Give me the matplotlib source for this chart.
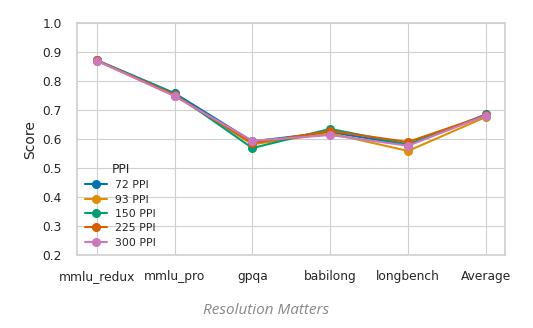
import matplotlib

matplotlib.use("Agg")
import matplotlib.pyplot as plt
import seaborn as sns

BENCHMARKS = ["mmlu_redux", "mmlu_pro", "gpqa", "babilong", "longbench", "Average"]
PPI_LABELS = ["72 PPI", "93 PPI", "150 PPI", "225 PPI", "300 PPI"]

SCORES_72 = [0.872, 0.758, 0.592, 0.624, 0.580, 0.685]
SCORES_93 = [0.870, 0.750, 0.582, 0.620, 0.559, 0.676]
SCORES_150 = [0.871, 0.756, 0.569, 0.635, 0.582, 0.682]
SCORES_225 = [0.871, 0.752, 0.586, 0.628, 0.590, 0.682]
SCORES_300 = [0.870, 0.748, 0.594, 0.614, 0.577, 0.681]

SERIES = [SCORES_72, SCORES_93, SCORES_150, SCORES_225, SCORES_300]

sns.set_theme(style="whitegrid", palette="colorblind")
plt.rcParams["font.family"] = ["DejaVu Sans"]

fig, ax = plt.subplots(figsize=(5.33, 3.28), dpi=100)
fig.subplots_adjust(left=0.145, right=0.948, top=0.93, bottom=0.222)

colors = sns.color_palette("colorblind", len(SERIES))
x = list(range(len(BENCHMARKS)))
for label, scores, color in zip(PPI_LABELS, SERIES, colors):
    ax.plot(x, scores, marker="o", markersize=5.5, linewidth=1.5, color=color, label=label)

ax.set_xticks(x)
ax.set_xticklabels(BENCHMARKS, fontsize=8.8)
ax.set_ylim(0.2, 1.0)
ax.set_yticks([0.2, 0.3, 0.4, 0.5, 0.6, 0.7, 0.8, 0.9, 1.0])
ax.tick_params(axis="y", labelsize=8.8)
ax.tick_params(axis="both", pad=5)
ax.set_ylabel("Score", fontsize=10)
ax.grid(True, color="#d0d0d0", linewidth=0.8)
for spine in ax.spines.values():
    spine.set_color("#d0d0d0")

legend = ax.legend(title="PPI", loc="lower left", fontsize=7.8, title_fontsize=8.8,
                   frameon=False, handlelength=2.0, labelspacing=0.4,
                   borderaxespad=0.3)

fig.text(0.5, 0.03, "Resolution Matters", ha="center", va="bottom",
         fontsize=11, style="italic", color="#888888", family="Open Sans")

fig.savefig("out.png", dpi=100)
